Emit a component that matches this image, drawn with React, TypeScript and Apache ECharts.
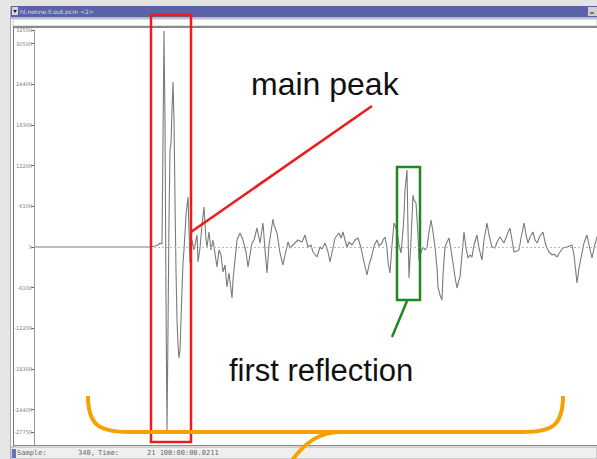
import React, { useEffect, useRef } from "react";
import * as echarts from "echarts";

// waveform samples (sample index, amplitude)
const sampleIndex = [
  0, 116, 121, 124, 126, 128, 129, 130, 131, 132, 133, 134, 135, 136, 137, 138, 139, 140, 141, 142,
  143, 144, 145, 146, 147, 148, 149, 150, 152, 154, 155, 156, 158, 160, 163, 164, 166, 168, 170, 172,
  173, 175, 177, 179, 183, 185, 187, 189, 191, 193, 195, 198, 199, 201, 203, 206, 209, 212, 214, 218,
  220, 223, 226, 229, 231, 233, 235, 239, 240, 243, 246, 249, 251, 254, 256, 259, 262, 264, 268, 271,
  274, 277, 279, 283, 286, 288, 291, 294, 296, 299, 301, 305, 307, 309, 311, 313, 315, 318, 321, 324,
  327, 330, 333, 335, 338, 340, 343, 345, 348, 349, 351, 353, 354, 356, 358, 360, 362, 363, 365, 367,
  369, 370, 371, 373, 374, 375, 377, 379, 380, 382, 384, 385, 387, 389, 391, 393, 395, 397, 399, 401,
  403, 404, 406, 408, 409, 411, 413, 415, 417, 419, 421, 423, 425, 426, 428, 430, 432, 434, 436, 438,
  440, 443, 445, 448, 450, 453, 455, 458, 461, 463, 466, 468, 470, 473, 476, 478, 480, 483, 485, 487,
  490, 492, 494, 496, 499, 501, 503, 506, 509, 511, 513, 515, 518, 520, 523, 526, 529, 533, 538, 540,
  543, 545, 548, 550, 553, 555, 558, 560, 563, 566,
];
const amplitude = [
  0, 0, 150, 300, 600, 450, 16050, 32400, 19050, -7950, -27450, -12450, 4050, 14550, 15600, 20550, 24750, 19050, 7050, -3450,
  -10950, -14700, -16650, -15450, -10950, -6450, -2400, -450, 4800, 7500, 2550, -2400, 1050, -450, 1800, -2250, -150, 3300, 6000, 1050,
  0, 2250, -450, 1050, -3000, -450, -1200, -3750, -2700, -6000, -3900, -7650, -4950, -1950, 1050, 2100, 1050, -750, -3000, 600,
  1050, 2850, 600, 3600, -450, -3900, 300, 4200, 3300, 2100, -900, -2700, -1200, 750, -150, 300, 750, 1050, 750, 1800,
  0, 300, -750, -1500, 0, -300, 600, -750, -2250, -150, 1350, 2100, 1350, 2250, 1050, 0, 750, 300, 1050, 1350,
  -150, -2250, -4200, -2700, -1200, 150, 1050, 150, 600, 1050, 1500, -150, -2250, -3900, 300, 3600, 2850, 2250, 300, -900,
  2550, 4800, 8550, 11550, 2550, -4650, 1050, 7800, 7050, 6600, 1800, -1950, -750, 0, -450, 0, 2250, 4050, 2250, 0,
  -3150, -6000, -7200, -7950, -4200, 0, 750, 1350, -450, -2400, -4500, -6150, -4950, -4500, -1200, 2250, -150, -1650, -1200, -1500,
  300, 1800, -150, -1950, 1050, 3600, 1800, 0, -150, 750, 1500, 1050, 600, 1800, 2850, 1050, -750, -600, -450, 1350,
  3600, 1800, 600, 1500, 2250, 1050, 600, 1650, 2250, 750, -150, -750, -1200, -1050, -1500, -750, -150, 0, 300, -1200,
  -5400, -3150, -900, 600, 1800, 300, -1650, -150, 1500, 2550,
];
const yTickValues = [-27750, -24400, -18300, -12200, -6100, 0, 6100, 12200, 18300, 24400, 30500, 32550];

const mainLabel = "main peak";
const reflectionLabel = "first reflection";
const windowTitle = "hl.nonne.ll.out.pcm <2>";
const statusTexts = ["Sample:", "340,", "Time:", "21 100:00:00.0211"];

export default function App() {
  const ref = useRef<HTMLDivElement>(null);
  useEffect(() => {
    if (!ref.current) return;
    const chart = echarts.init(ref.current, undefined, { renderer: "svg" });
    const data = sampleIndex.map((s, i) => [s, amplitude[i]]);
    const orange = "#f7a100";
    const statusX = [17, 78, 98, 147];
    chart.setOption({
      animation: false,
      backgroundColor: "#ffffff",
      grid: { left: 34, right: 0, top: 30, bottom: 14 },
      xAxis: {
        type: "value",
        min: 0,
        max: 563,
        show: false,
      },
      yAxis: {
        type: "value",
        min: -29700,
        max: 32550,
        axisLine: { show: true, lineStyle: { color: "#999", width: 1 } },
        axisTick: {
          show: true,
          length: 3,
          lineStyle: { color: "#666" },
          customValues: yTickValues,
        },
        axisLabel: {
          fontSize: 5,
          color: "#7a7a7a",
          margin: 2,
          fontFamily: "DejaVu Sans",
          customValues: yTickValues,
          formatter: (v: number) => String(Math.round(v)),
        },
        splitLine: { show: false },
      },
      series: [
        {
          type: "line",
          data,
          showSymbol: false,
          lineStyle: { color: "#7a7a7a", width: 1.1 },
          markLine: {
            silent: true,
            symbol: "none",
            label: { show: false },
            lineStyle: { color: "#b8b8b8", type: [2, 2], width: 1 },
            data: [{ yAxis: 0 }],
          },
        },
      ],
      graphic: [
        // window chrome
        { type: "rect", shape: { x: 0, y: 0, width: 597, height: 7 }, style: { fill: "#e4e4e4" }, z: 1 },
        { type: "rect", shape: { x: 0, y: 0, width: 11, height: 459 }, style: { fill: "#e6e6e6" }, z: 1 },
        { type: "line", shape: { x1: 10.5, y1: 7, x2: 10.5, y2: 459 }, style: { stroke: "#a8a8a8", lineWidth: 1 }, z: 2 },
        { type: "rect", shape: { x: 11, y: 6, width: 586, height: 11 }, style: { fill: "#5b63a8" }, z: 2 },
        { type: "rect", shape: { x: 12, y: 7, width: 6, height: 8 }, style: { fill: "#d8d8e8" }, z: 3 },
        { type: "polygon", shape: { points: [[13, 10], [17, 10], [15, 13]] }, style: { fill: "#222" }, z: 4 },
        { type: "text", x: 20, y: 11.5, style: { text: windowTitle, fontSize: 6, fill: "#dde", fontFamily: "DejaVu Sans", verticalAlign: "middle" }, z: 3 },
        { type: "rect", shape: { x: 588, y: 7, width: 9, height: 9 }, style: { fill: "#d0d0d0" }, z: 3 },
        { type: "line", shape: { x1: 590, y1: 13, x2: 594, y2: 13 }, style: { stroke: "#222", lineWidth: 1 }, z: 4 },
        { type: "rect", shape: { x: 11, y: 17, width: 586, height: 2 }, style: { fill: "#b8b8c4" }, z: 2 },
        { type: "rect", shape: { x: 13, y: 19, width: 584, height: 7 }, style: { fill: "#fbfbfb", stroke: "#c8c8c8", lineWidth: 1 }, z: 2 },
        { type: "rect", shape: { x: 13, y: 26, width: 584, height: 2 }, style: { fill: "#8a8a8a" }, z: 2 },
        { type: "line", shape: { x1: 13.5, y1: 26, x2: 13.5, y2: 447 }, style: { stroke: "#777", lineWidth: 1 }, z: 2 },
        { type: "line", shape: { x1: 13, y1: 445.5, x2: 597, y2: 445.5 }, style: { stroke: "#8a8a8a", lineWidth: 1 }, z: 2 },
        { type: "rect", shape: { x: 11, y: 447, width: 586, height: 12 }, style: { fill: "#efefef", stroke: "#b0b0b0", lineWidth: 1 }, z: 2 },
        { type: "rect", shape: { x: 12, y: 449, width: 4, height: 9 }, style: { fill: "#6a72c0" }, z: 3 },
        ...statusTexts.map((t, i) => ({
          type: "text",
          x: statusX[i],
          y: 453,
          style: { text: t, fontSize: 7, fill: "#666", fontFamily: "DejaVu Sans Mono", verticalAlign: "middle" },
          z: 3,
        })),
        // annotations
        { type: "rect", shape: { x: 151, y: 15, width: 40, height: 427 }, style: { fill: "none", stroke: "#ec1c1c", lineWidth: 2.5 }, z: 100 },
        { type: "line", shape: { x1: 191, y1: 232, x2: 372, y2: 106 }, style: { stroke: "#ec1c1c", lineWidth: 2.5 }, z: 100 },
        { type: "text", x: 251, y: 84, style: { text: mainLabel, fontSize: 32, fill: "#111", fontFamily: "Liberation Sans", verticalAlign: "middle" }, z: 100 },
        { type: "rect", shape: { x: 397, y: 167, width: 23, height: 133 }, style: { fill: "none", stroke: "#1e8a1e", lineWidth: 2.5 }, z: 100 },
        { type: "line", shape: { x1: 407, y1: 301, x2: 392, y2: 337 }, style: { stroke: "#1e8a1e", lineWidth: 2.5 }, z: 100 },
        { type: "text", x: 229, y: 370, style: { text: reflectionLabel, fontSize: 31, fill: "#111", fontFamily: "Liberation Sans", verticalAlign: "middle" }, z: 100 },
        { type: "bezierCurve", shape: { x1: 88, y1: 396, cpx1: 88, cpy1: 426, cpx2: 100, cpy2: 432, x2: 130, y2: 432 }, style: { stroke: orange, lineWidth: 4, fill: "none" }, z: 100 },
        { type: "line", shape: { x1: 130, y1: 432, x2: 522, y2: 432 }, style: { stroke: orange, lineWidth: 4 }, z: 100 },
        { type: "bezierCurve", shape: { x1: 522, y1: 432, cpx1: 552, cpy1: 432, cpx2: 563, cpy2: 426, x2: 563, y2: 396 }, style: { stroke: orange, lineWidth: 4, fill: "none" }, z: 100 },
        { type: "bezierCurve", shape: { x1: 340, y1: 432, cpx1: 320, cpy1: 432, cpx2: 305, cpy2: 442, x2: 290, y2: 463 }, style: { stroke: orange, lineWidth: 4, fill: "none" }, z: 100 },
      ],
    });
    return () => chart.dispose();
  }, []);
  return (
    <div
      ref={ref}
      style={{ position: "fixed", left: 0, top: 0, width: 597, height: 459 }}
    />
  );
}
